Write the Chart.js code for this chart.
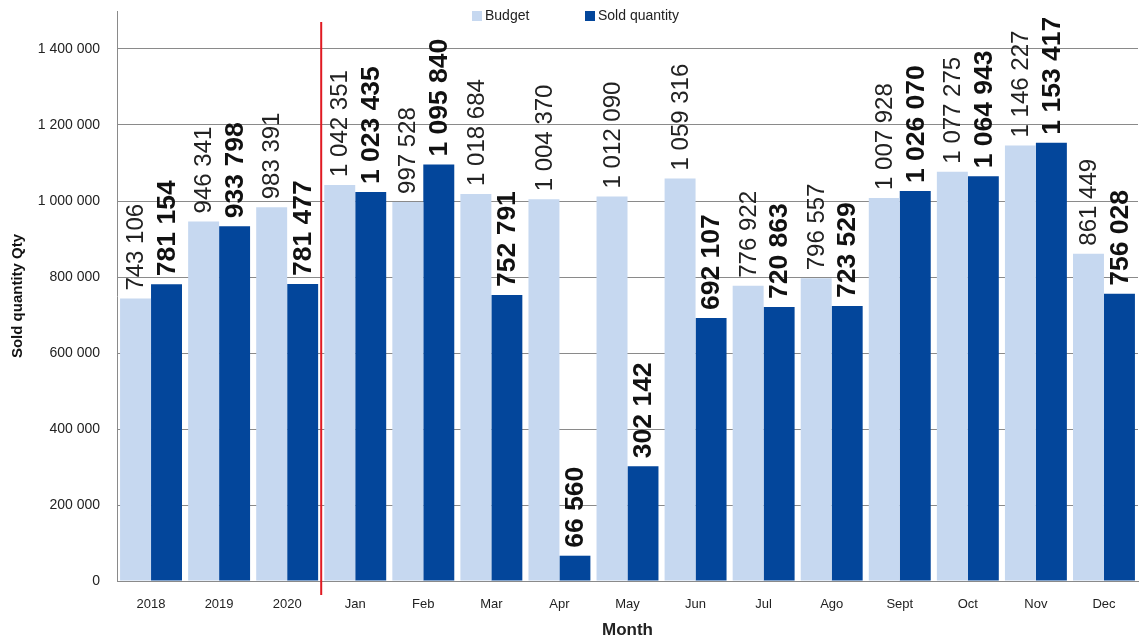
<!DOCTYPE html>
<html>
<head>
<meta charset="utf-8">
<script src="https://cdn.jsdelivr.net/npm/chart.js@4"></script>
<style>
  body { margin: 0; background: #fff; }
  #wrap { position: relative; width: 1148px; height: 641px; }
  .legend { position: absolute; top: 7px; font: 14px "Liberation Sans", Arial, sans-serif; color: #222; }
  .legend span { display: inline-block; width: 10px; height: 10px; margin-right: 3px; vertical-align: -1px; }
</style>
</head>
<body>
<div id="wrap">
  <canvas id="chart" width="1148" height="641"></canvas>
  <div class="legend" style="left:472px"><span style="background:#c6d8f0"></span>Budget</div>
  <div class="legend" style="left:585px"><span style="background:#03469b"></span>Sold quantity</div>
</div>
<script>
const categories = ['2018', '2019', '2020', 'Jan', 'Feb', 'Mar', 'Apr', 'May', 'Jun', 'Jul', 'Ago', 'Sept', 'Oct', 'Nov', 'Dec'];
const budget = [743106, 946341, 983391, 1042351, 997528, 1018684, 1004370, 1012090, 1059316, 776922, 796557, 1007928, 1077275, 1146227, 861449];
const sold = [781154, 933798, 781477, 1023435, 1095840, 752791, 66560, 302142, 692107, 720863, 723529, 1026070, 1064943, 1153417, 756028];
const yTicks = [0, 200000, 400000, 600000, 800000, 1000000, 1200000, 1400000];

const FONT = '"Liberation Sans", Arial, sans-serif';

function fmt(n) {
  return String(n).replace(/\B(?=(\d{3})+(?!\d))/g, ' ');
}

// value labels, rotated above each bar
const barLabels = {
  id: 'barLabels',
  afterDatasetsDraw(chart) {
    const ctx = chart.ctx;
    chart.data.datasets.forEach((ds, i) => {
      const meta = chart.getDatasetMeta(i);
      meta.data.forEach((bar, j) => {
        ctx.save();
        ctx.translate(bar.x, bar.y - 8);
        ctx.rotate(-Math.PI / 2);
        ctx.font = i === 0 ? '24px ' + FONT : 'bold 26.5px ' + FONT;
        ctx.fillStyle = i === 0 ? '#222' : '#111';
        ctx.textAlign = 'left';
        ctx.textBaseline = 'middle';
        ctx.fillText(fmt(ds.data[j]), 0, 1);
        ctx.restore();
      });
    });
  }
};

// red separator between yearly totals and months
const separator = {
  id: 'separator',
  beforeDatasetsDraw(chart) {
    const x = chart.scales.x;
    const px = (x.getPixelForValue(2) + x.getPixelForValue(3)) / 2;
    const ctx = chart.ctx;
    ctx.save();
    ctx.strokeStyle = '#e01a22';
    ctx.lineWidth = 2;
    ctx.beginPath();
    ctx.moveTo(px, 22);
    ctx.lineTo(px, 595);
    ctx.stroke();
    ctx.restore();
  }
};

new Chart(document.getElementById('chart'), {
  type: 'bar',
  data: {
    labels: categories,
    datasets: [
      { label: 'Budget', data: budget, backgroundColor: '#c6d8f0' },
      { label: 'Sold quantity', data: sold, backgroundColor: '#03469b' }
    ]
  },
  options: {
    responsive: false,
    animation: false,
    layout: { padding: { top: 11, right: 10, left: 0, bottom: 0 } },
    datasets: { bar: { categoryPercentage: 0.91, barPercentage: 1.0 } },
    plugins: {
      legend: { display: false },
      tooltip: { enabled: false }
    },
    scales: {
      x: {
        grid: { display: false, drawTicks: false },
        border: { color: '#8a8a8a' },
        ticks: { color: '#222', font: { family: FONT, size: 13 }, padding: 16 },
        title: { display: true, text: 'Month', color: '#222', font: { family: FONT, size: 17, weight: 'bold' }, padding: { top: 1, bottom: 0 } },
        afterFit(s) { s.height = 60; s.paddingLeft = 0; s.paddingRight = 0; }
      },
      y: {
        min: 0,
        max: 1500000,
        grid: { color: '#8a8a8a', drawTicks: false },
        border: { color: '#8a8a8a' },
        ticks: {
          color: '#222',
          padding: 17,
          font: { family: FONT, size: 14 },
          callback: v => fmt(v)
        },
        afterBuildTicks(s) { s.ticks = yTicks.map(v => ({ value: v })); },
        title: { display: true, text: 'Sold quantity Qty', color: '#111', font: { family: FONT, size: 15, weight: 'bold' }, padding: { top: 9, bottom: 0 } },
        afterFit(s) { s.width = 117; s.paddingTop = 0; s.paddingBottom = 0; }
      }
    }
  },
  plugins: [separator, barLabels]
});
</script>
</body>
</html>
